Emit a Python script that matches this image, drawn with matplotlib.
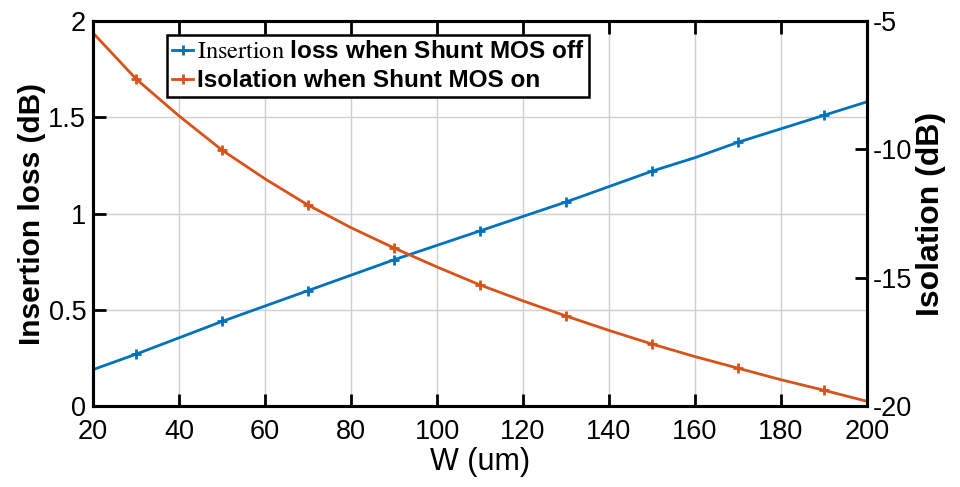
import numpy as np
import matplotlib.pyplot as plt

plt.rcParams['mathtext.fontset'] = 'stix'
plt.rcParams['axes.unicode_minus'] = False

w = [20, 30, 40, 50, 60, 70, 80, 90, 100, 110, 120, 130, 140, 150, 160, 170, 180, 190, 200]
insertion_loss = [0.19, 0.27, 0.355, 0.44, 0.52, 0.60, 0.68, 0.76, 0.835, 0.91,
                  0.985, 1.06, 1.14, 1.22, 1.29, 1.37, 1.44, 1.51, 1.58]
isolation = [-5.47, -7.26, -8.70, -10.03, -11.15, -12.17, -13.05, -13.84, -14.58, -15.28,
             -15.90, -16.49, -17.05, -17.58, -18.07, -18.52, -18.97, -19.38, -19.81]

blue = '#0072BD'
orange = '#D95319'
sans = ['Liberation Sans', 'DejaVu Sans']

fig = plt.figure(figsize=(9.6, 4.87), dpi=100)
ax = fig.add_axes([0.097, 0.166, 0.806, 0.791])
ax2 = ax.twinx()

l1, = ax.plot(w, insertion_loss, color=blue, lw=2, marker='+', ms=7, mew=2,
              markevery=slice(1, None, 2))
l2, = ax2.plot(w, isolation, color=orange, lw=2, marker='+', ms=7, mew=2,
               markevery=slice(1, None, 2))

ax.set_xlim(20, 200)
ax.set_ylim(0, 2)
ax2.set_ylim(-20, -5)
ax.set_xticks(np.arange(20, 201, 20))
ax.set_yticks([0, 0.5, 1, 1.5, 2])
ax.set_yticklabels(['0', '0.5', '1', '1.5', '2'])
ax2.set_yticks([-20, -15, -10, -5])

ax.grid(True, color='#d0d0d0', lw=1)
ax.set_axisbelow(True)

for a in (ax, ax2):
    for s in a.spines.values():
        s.set_linewidth(2.2)
        s.set_color('black')
ax.tick_params(axis='x', direction='in', length=9, width=2, top=True, pad=9)
ax.tick_params(axis='y', direction='in', length=9, width=2, pad=5)
ax2.tick_params(axis='y', direction='in', length=9, width=2, pad=4)
for lab in ax.get_xticklabels() + ax.get_yticklabels() + ax2.get_yticklabels():
    lab.set_fontfamily(sans)
    lab.set_fontsize(19.5)

ax.set_xlabel('W (um)', fontfamily=sans, fontsize=22, labelpad=2)
ax.set_ylabel('Insertion loss (dB)', fontfamily=sans, fontsize=21.5, weight='bold', labelpad=2)
ax2.set_ylabel('Isolation (dB)', fontfamily=sans, fontsize=23, weight='bold', labelpad=3)

leg = ax2.legend([l1, l2],
                 [r'$\mathrm{Insertion}$ loss when Shunt MOS off', 'Isolation when Shunt MOS on'],
                 loc='upper left', bbox_to_anchor=(0.096, 0.963),
                 prop=dict(family=sans, size=17.5, weight='bold'),
                 frameon=True, fancybox=False, handlelength=0.85, handletextpad=0.15,
                 borderpad=0.2, labelspacing=0.25, borderaxespad=0, framealpha=1)
leg.get_frame().set_edgecolor('black')
leg.get_frame().set_linewidth(1.8)

fig.savefig('out.png', dpi=100)
